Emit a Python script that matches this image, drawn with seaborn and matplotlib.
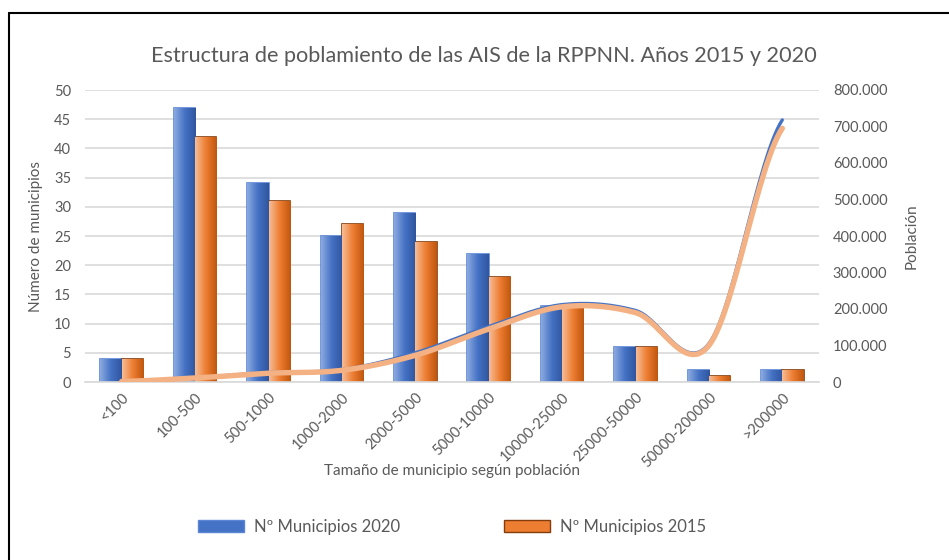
import numpy as np
import pandas as pd
import matplotlib
matplotlib.use("Agg")
import matplotlib.pyplot as plt
import seaborn as sns
from matplotlib.patches import Patch
from matplotlib.lines import Line2D

# datos
categorias = ["<100", "100-500", "500-1000", "1000-2000", "2000-5000", "5000-10000",
              "10000-25000", "25000-50000", "50000-200000", ">200000"]
muni_2020 = [4, 47, 34, 25, 29, 22, 13, 6, 2, 2]
muni_2015 = [4, 42, 31, 27, 24, 18, 13, 6, 1, 2]
pob_2020 = [1500, 12000, 26000, 34000, 80000, 152000, 212000, 196000, 105000, 718000]
pob_2015 = [1500, 11000, 24000, 32000, 73000, 145000, 206000, 190000, 100000, 695000]

sns.set_style("white")
plt.rcParams["font.family"] = ["Lato", "DejaVu Sans"]
gris = "#595959"

df = pd.DataFrame({
    "cat": categorias * 2,
    "n": muni_2020 + muni_2015,
    "serie": ["Nº Municipios 2020"] * 10 + ["Nº Municipios 2015"] * 10,
})

fig = plt.figure(figsize=(9.49, 5.6), dpi=100)
ax = fig.add_axes([85 / 949, 1 - 382 / 560, (819 - 85) / 949, (382 - 90) / 560])

pal = {"Nº Municipios 2020": "#4472C4", "Nº Municipios 2015": "#ED7D31"}
sns.barplot(data=df, x="cat", y="n", hue="serie", palette=pal, width=0.58,
            ax=ax, legend=False, zorder=2)

# degradado en las barras, como en excel
grad_blue = matplotlib.colors.LinearSegmentedColormap.from_list("b", ["#8BA9E0", "#4472C4", "#2F559E"])
grad_orng = matplotlib.colors.LinearSegmentedColormap.from_list("o", ["#F7BC96", "#ED7D31", "#C0560E"])
g = np.linspace(0, 1, 64).reshape(1, -1)
n = len(categorias)
for i, p in enumerate(ax.patches[:2 * n]):
    x0, y0 = p.get_x(), p.get_y()
    w, h = p.get_width(), p.get_height()
    blue = i < n
    p.set_edgecolor("#5B86D6" if blue else "#843C0C")
    p.set_linewidth(1.2)
    im = ax.imshow(g, extent=[x0, x0 + w, y0, y0 + h], aspect="auto",
                   cmap=grad_blue if blue else grad_orng, zorder=2.5)
    im.set_clip_path(p)

ax.set_xlim(-0.5, n - 0.5)
ax.set_ylim(0, 50)
ax.set_yticks(range(0, 51, 5))
ax.grid(axis="y", color="#d9d9d9", lw=1.2, zorder=0)
for s in ["top", "right", "left"]:
    ax.spines[s].set_visible(False)
ax.spines["bottom"].set_color("#d9d9d9")
ax.spines["bottom"].set_linewidth(1.2)
ax.tick_params(axis="both", length=0, labelsize=10.5, labelcolor=gris, pad=6)
ax.tick_params(axis="y", pad=10)
ax.set_xticks(range(n))
ax.set_xticklabels(categorias, rotation=45, ha="right", rotation_mode="anchor")
ax.set_xlabel("Tamaño de municipio según población", fontsize=11, color=gris)
ax.xaxis.set_label_coords(0.5, -0.28)
ax.set_ylabel("Número de municipios", fontsize=11, color=gris)
ax.yaxis.set_label_coords(-0.057, 0.5)


# curva suavizada (catmull-rom) entre los puntos
def suave(y, k=30):
    y = np.asarray(y, float)
    xs, ys = [], []
    for i in range(len(y) - 1):
        p0 = y[i - 1] if i > 0 else y[i]
        p3 = y[i + 2] if i + 2 < len(y) else y[i + 1]
        m1 = (y[i + 1] - p0) / 2
        m2 = (p3 - y[i]) / 2
        t = np.linspace(0, 1, k)
        h00 = 2 * t**3 - 3 * t**2 + 1
        h10 = t**3 - 2 * t**2 + t
        h01 = -2 * t**3 + 3 * t**2
        h11 = t**3 - t**2
        xs.append(i + t)
        ys.append(h00 * y[i] + h10 * m1 + h01 * y[i + 1] + h11 * m2)
    return np.concatenate(xs), np.concatenate(ys)


ax2 = ax.twinx()
x20, y20 = suave(pob_2020)
x15, y15 = suave(pob_2015)
ax2.plot(x20, y20, color="#4472C4", lw=2.4, solid_capstyle="round")
ax2.plot(x15, y15, color="#F4B183", lw=3.9, solid_capstyle="round")
ax2.set_ylim(0, 800000)
ax2.set_yticks(range(0, 800001, 100000))
ax2.set_yticklabels(["0"] + [f"{v // 1000}.000" for v in range(100000, 800001, 100000)])
for s in ax2.spines.values():
    s.set_visible(False)
ax2.tick_params(axis="y", length=0, labelsize=10.5, labelcolor=gris, pad=10)
ax2.set_ylabel("Población", fontsize=11, color=gris)
ax2.yaxis.set_label_coords(1.117, 0.5)

fig.text(484 / 949, 1 - 56 / 560, "Estructura de poblamiento de las AIS de la RPPNN. Años 2015 y 2020",
         ha="center", va="center", fontsize=15.6, color=gris)

handles = [Patch(facecolor="#4472C4", edgecolor="#5B86D6", label="Nº Municipios 2020"),
           Patch(facecolor="#ED7D31", edgecolor="#843C0C", label="Nº Municipios 2015")]
fig.legend(handles=handles, loc="center", bbox_to_anchor=(452 / 949, 1 - 527 / 560), ncol=2,
           frameon=False, fontsize=12, handlelength=2.8, handleheight=0.75,
           handletextpad=0.6, columnspacing=6.2, labelcolor=gris)

# marco (solo arriba e izquierda visibles)
fig.add_artist(Line2D([9 / 949, 9 / 949], [0, 1 - 13 / 560], color="black", lw=1.5))
fig.add_artist(Line2D([9 / 949, 1], [1 - 13 / 560, 1 - 13 / 560], color="black", lw=1.5))

fig.savefig("out.png", dpi=100)
